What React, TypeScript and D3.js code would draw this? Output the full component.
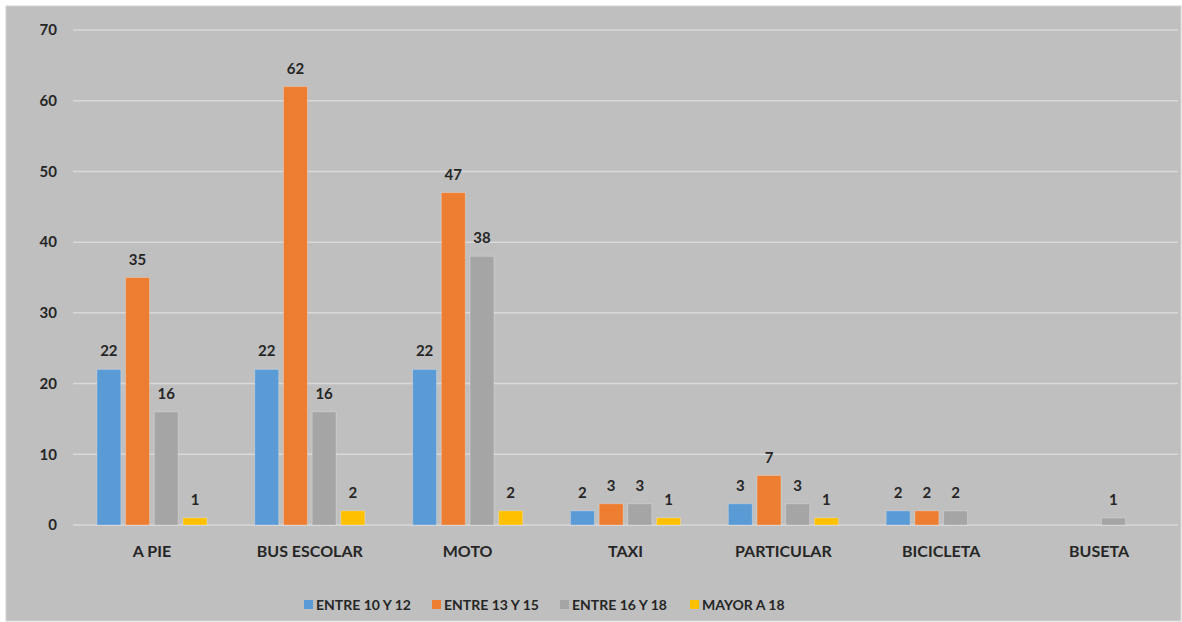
import React from "react";
import * as d3 from "d3";

const categories = ["A PIE", "BUS ESCOLAR", "MOTO", "TAXI", "PARTICULAR", "BICICLETA", "BUSETA"];
const seriesNames = ["ENTRE 10 Y 12", "ENTRE 13 Y 15", "ENTRE 16 Y 18", "MAYOR A 18"];
const entre10y12: (number | null)[] = [22, 22, 22, 2, 3, 2, null];
const entre13y15: (number | null)[] = [35, 62, 47, 3, 7, 2, null];
const entre16y18: (number | null)[] = [16, 16, 38, 3, 3, 2, 1];
const mayorA18: (number | null)[] = [1, 2, 2, 1, 1, null, null];
const yTicks = [0, 10, 20, 30, 40, 50, 60, 70];

const seriesValues = [entre10y12, entre13y15, entre16y18, mayorA18];
const colors = ["#5b9bd5", "#ed7d31", "#a5a5a5", "#ffc000"];

const W = 1182;
const H = 622;
const FONT = "Lato, 'Open Sans', 'DejaVu Sans', sans-serif";

export default function App() {
  const left = 73;
  const right = 1178;
  const y = d3.scaleLinear().domain([0, 70]).range([525, 30]);
  const x = d3.scaleBand<string>().domain(categories).range([left, right]).paddingInner(0).paddingOuter(0);
  const band = x.bandwidth();
  // bar width: gap of one bar on each side of the group, 20% spacing between bars
  const barW = band / 6.6;
  const step = barW * 1.2;

  const legendX = [304, 432, 560, 690];

  return (
    <svg width={W} height={H} style={{ position: "absolute", left: 0, top: 0, display: "block" }}>
      <rect x={0} y={0} width={W} height={H} fill="#ffffff" />
      <rect x={6} y={6} width={1175} height={615} fill="#bfbfbf" stroke="#d4d4d4" strokeWidth={1} />
      {yTicks.map((t) => (
        <g key={t}>
          <line x1={left} x2={right} y1={y(t)} y2={y(t)} stroke="#d9d9d9" strokeWidth={1.5} />
          <text x={57} y={y(t)} dy="0.35em" textAnchor="end" fontFamily={FONT} fontWeight={700} fontSize={15} fill="#262626">
            {t}
          </text>
        </g>
      ))}
      {categories.map((c, ci) => {
        const x0 = (x(c) as number) + barW;
        return (
          <g key={c}>
            {seriesValues.map((vals, si) => {
              const v = vals[ci];
              if (v == null) return null;
              const bx = x0 + si * step;
              return (
                <g key={si}>
                  <rect x={bx} y={y(v)} width={barW} height={y(0) - y(v)} fill={colors[si]} stroke="#ffffff" strokeOpacity={0.25} strokeWidth={1} />
                  <text x={bx + barW / 2} y={y(v) - 13} textAnchor="middle" fontFamily={FONT} fontWeight={700} fontSize={15} fill="#262626">
                    {v}
                  </text>
                </g>
              );
            })}
            <text x={(x(c) as number) + band / 2} y={557} textAnchor="middle" fontFamily={FONT} fontWeight={700} fontSize={16} fill="#262626">
              {c}
            </text>
          </g>
        );
      })}
      {seriesNames.map((s, i) => (
        <g key={s}>
          <rect x={legendX[i]} y={600} width={9} height={9} fill={colors[i]} />
          <text x={legendX[i] + 12} y={610} fontFamily={FONT} fontWeight={700} fontSize={14} fill="#262626">
            {s}
          </text>
        </g>
      ))}
    </svg>
  );
}
